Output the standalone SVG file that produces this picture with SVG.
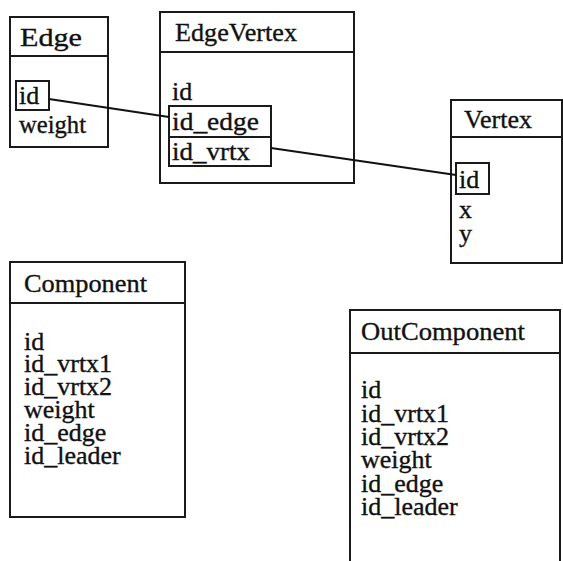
<svg xmlns="http://www.w3.org/2000/svg" width="563" height="561" viewBox="0 0 563 561">
<style>
.box{fill:#fff;stroke:#1a1a1a;stroke-width:2}
.sep{stroke:#1a1a1a;stroke-width:2}
.key{fill:none;stroke:#1a1a1a;stroke-width:2}
text{font-family:"Liberation Serif","Times New Roman",serif;font-size:26px;fill:#111;stroke:#111;stroke-width:0.35}
.conn{stroke:#111;stroke-width:2;fill:none}
</style>
<rect width="563" height="561" fill="#fff"/>
<g id="Edge">
<rect class="box" x="10" y="17" width="98" height="130"/>
<line class="sep" x1="10" y1="56" x2="108" y2="56"/>
<text x="20" y="46" textLength="62" lengthAdjust="spacingAndGlyphs">Edge</text>
<rect class="key" x="16" y="81" width="33" height="29"/>
<text x="19" y="104">id</text>
<text x="19" y="133" textLength="67" lengthAdjust="spacingAndGlyphs">weight</text>
</g>
<g id="EdgeVertex">
<rect class="box" x="160" y="12" width="194" height="171"/>
<line class="sep" x1="160" y1="52" x2="354" y2="52"/>
<text x="175" y="41" textLength="122" lengthAdjust="spacingAndGlyphs">EdgeVertex</text>
<text x="172" y="100">id</text>
<rect class="key" x="169" y="106" width="102" height="31"/>
<rect class="key" x="169" y="137" width="102" height="29"/>
<text x="172" y="130" textLength="87" lengthAdjust="spacingAndGlyphs">id_edge</text>
<text x="172" y="160" textLength="78" lengthAdjust="spacingAndGlyphs">id_vrtx</text>
</g>
<g id="Vertex">
<rect class="box" x="451" y="100" width="111" height="163"/>
<line class="sep" x1="451" y1="137" x2="562" y2="137"/>
<text x="464" y="128" textLength="68" lengthAdjust="spacingAndGlyphs">Vertex</text>
<rect class="key" x="456" y="163" width="33" height="31"/>
<text x="459" y="188">id</text>
<text x="459" y="218">x</text>
<text x="459" y="242">y</text>
</g>
<g id="Component">
<rect class="box" x="10" y="262" width="175" height="255"/>
<line class="sep" x1="10" y1="303" x2="185" y2="303"/>
<text x="24" y="292" textLength="123" lengthAdjust="spacingAndGlyphs">Component</text>
<text x="24" y="350">id</text>
<text x="24" y="372">id_vrtx1</text>
<text x="24" y="395">id_vrtx2</text>
<text x="24" y="418">weight</text>
<text x="24" y="441">id_edge</text>
<text x="24" y="464">id_leader</text>
</g>
<g id="OutComponent">
<rect class="box" x="350" y="310" width="210" height="260"/>
<line class="sep" x1="350" y1="353" x2="560" y2="353"/>
<text x="361" y="340" textLength="164" lengthAdjust="spacingAndGlyphs">OutComponent</text>
<text x="361" y="398">id</text>
<text x="361" y="422">id_vrtx1</text>
<text x="361" y="445">id_vrtx2</text>
<text x="361" y="468">weight</text>
<text x="361" y="492">id_edge</text>
<text x="361" y="515">id_leader</text>
</g>
<g id="connectors">
<line class="conn" x1="49" y1="99" x2="169" y2="117"/>
<line class="conn" x1="271" y1="148" x2="456" y2="175"/>
</g>
</svg>
